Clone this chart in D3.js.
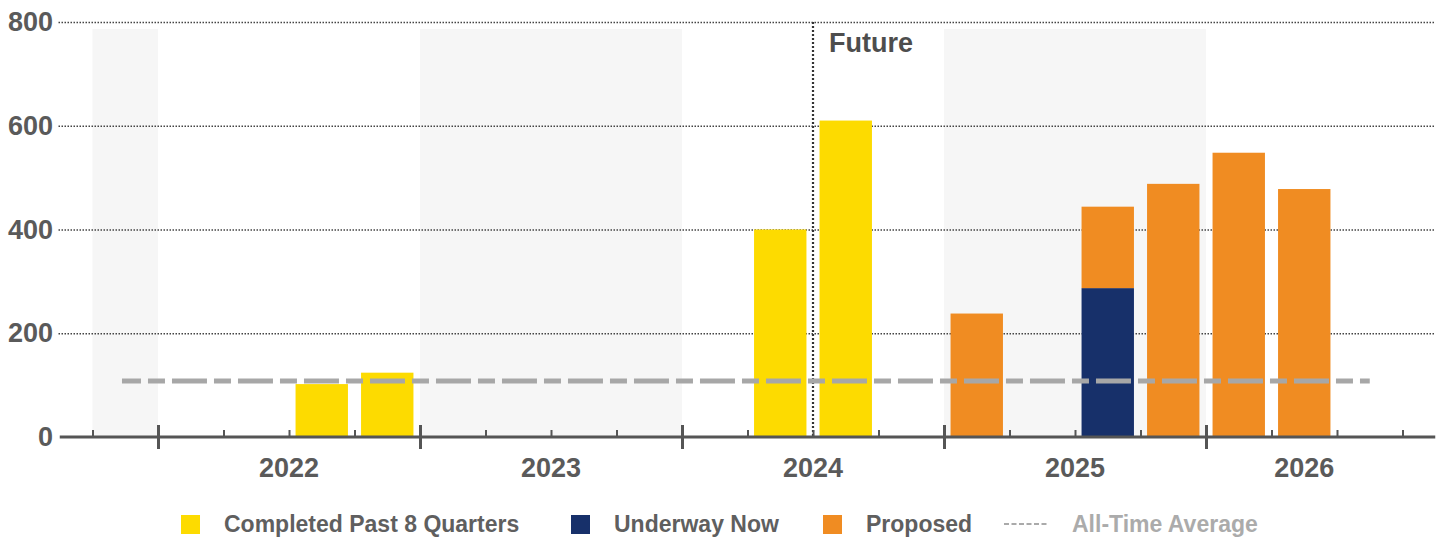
<!DOCTYPE html>
<html>
<head>
<meta charset="utf-8">
<script src="https://cdn.jsdelivr.net/npm/d3@7"></script>
<style>
  body { margin: 0; background: #fff; }
  text { font-family: "Liberation Sans", Arial, sans-serif; font-weight: bold; }
</style>
</head>
<body>
<svg width="1443" height="537"></svg>
<script>
// quarters shown on the axis (2021 Q4 .. 2026 Q3)
var quarters = ["2021 Q4",
  "2022 Q1", "2022 Q2", "2022 Q3", "2022 Q4",
  "2023 Q1", "2023 Q2", "2023 Q3", "2023 Q4",
  "2024 Q1", "2024 Q2", "2024 Q3", "2024 Q4",
  "2025 Q1", "2025 Q2", "2025 Q3", "2025 Q4",
  "2026 Q1", "2026 Q2", "2026 Q3"];

var completed = [0, 0, 0, 102, 124, 0, 0, 0, 0, 0, 400, 610, 0, 0, 0, 0, 0, 0, 0, 0];
var underway  = [0, 0, 0, 0, 0, 0, 0, 0, 0, 0, 0, 0, 0, 0, 0, 287, 0, 0, 0, 0];
var proposed  = [0, 0, 0, 0, 0, 0, 0, 0, 0, 0, 0, 0, 0, 238, 0, 157, 488, 548, 478, 0];

var years = [2021, 2022, 2023, 2024, 2025, 2026];
var yTicks = [0, 200, 400, 600, 800];
var allTimeAverage = 108;
var futureStart = "2024 Q3";

var seriesNames = ["Completed Past 8 Quarters", "Underway Now", "Proposed"];
var colors = ["#FDDB00", "#17306A", "#F08C22"];

function draw() {
  var svg = d3.select("svg");
  var plotLeft = 92.5, plotRight = 1402.5, plotTop = 22, plotBottom = 437;

  // one step per quarter
  var qx = d3.scaleLinear().domain([0, quarters.length]).range([plotLeft, plotRight]);
  var x = d3.scaleBand()
    .domain(quarters)
    .range([plotLeft, plotRight])
    .paddingInner(0.2)
    .paddingOuter(0.1);
  var step = x.step();

  var y = d3.scaleLinear().domain([0, 800]).range([plotBottom, plotTop]);

  // span of each year, clipped to the quarters shown
  var yearSpans = years.map(function(yr) {
    var idx = quarters.map(function(q, i) { return q.slice(0, 4) == String(yr) ? i : -1; })
      .filter(function(i) { return i >= 0; });
    return { year: yr, x0: qx(idx[0]), x1: qx(idx[idx.length - 1] + 1) };
  });

  // alternating year shading
  svg.append("g").selectAll("rect")
    .data(yearSpans.filter(function(d) { return d.year % 2 == 1; }))
    .enter().append("rect")
    .attr("x", function(d) { return d.x0; })
    .attr("width", function(d) { return d.x1 - d.x0; })
    .attr("y", plotTop + 7)
    .attr("height", plotBottom - plotTop - 7)
    .attr("fill", "#F6F6F6");

  // gridlines
  svg.append("g")
    .attr("transform", "translate(" + (plotLeft - 34) + ",0)")
    .call(d3.axisRight(y).tickValues(yTicks.filter(function(v) { return v > 0; }))
      .tickSize(1435 - plotLeft + 34).tickFormat(""))
    .call(function(g) {
      g.select(".domain").remove();
      g.selectAll(".tick line")
        .attr("stroke", "#444")
        .attr("stroke-width", 1.5)
        .attr("stroke-dasharray", "1.5,1.5");
    });

  // y labels
  svg.append("g")
    .attr("transform", "translate(53,0)")
    .call(d3.axisLeft(y).tickValues(yTicks).tickSize(0).tickPadding(0))
    .call(function(g) {
      g.select(".domain").remove();
      g.selectAll("text")
        .attr("font-size", 27)
        .attr("font-family", "Liberation Sans, Arial, sans-serif")
        .attr("font-weight", "bold")
        .attr("fill", "#5a5a5a");
    });

  // stacked bars
  var rows = quarters.map(function(q, i) {
    return { q: q, c: completed[i], u: underway[i], p: proposed[i] };
  });
  var stack = d3.stack().keys(["c", "u", "p"])(rows);

  svg.append("g").selectAll("g")
    .data(stack)
    .enter().append("g")
    .attr("fill", function(d, i) { return colors[i]; })
    .selectAll("rect")
    .data(function(d) { return d.filter(function(s) { return s[1] - s[0] > 0; }); })
    .enter().append("rect")
    .attr("x", function(d) { return x(d.data.q); })
    .attr("width", x.bandwidth())
    .attr("y", function(d) { return y(d[1]); })
    .attr("height", function(d) { return y(d[0]) - y(d[1]); });

  // future divider
  var fx = qx(quarters.indexOf(futureStart));
  svg.append("line")
    .attr("x1", fx).attr("x2", fx)
    .attr("y1", plotTop).attr("y2", plotBottom)
    .attr("stroke", "#333")
    .attr("stroke-width", 2.2)
    .attr("stroke-dasharray", "2,2");

  svg.append("text")
    .attr("x", fx + 16)
    .attr("y", 52)
    .attr("font-size", 27)
    .attr("fill", "#4d4d4d")
    .text("Future");

  // all-time average
  svg.append("line")
    .attr("x1", qx(0.45)).attr("x2", qx(quarters.length - 0.5))
    .attr("y1", y(allTimeAverage)).attr("y2", y(allTimeAverage))
    .attr("stroke", "#A7A7A7")
    .attr("stroke-width", 5)
    .attr("stroke-dasharray", "35,7,17,7")
    .attr("stroke-dashoffset", 16);

  // x axis
  var boundaries = d3.range(0, quarters.length + 1);
  var majors = boundaries.filter(function(i) { return i < quarters.length && quarters[i].slice(5) == "Q1"; });
  var minors = boundaries.filter(function(i) { return majors.indexOf(i) < 0; });

  svg.append("line")
    .attr("x1", qx(0) - step / 2).attr("x2", qx(quarters.length) + step / 2)
    .attr("y1", plotBottom).attr("y2", plotBottom)
    .attr("stroke", "#555")
    .attr("stroke-width", 3);

  var tickStyle = function(g) {
    g.select(".domain").remove();
    g.selectAll(".tick line").attr("stroke", "#555");
  };

  svg.append("g")
    .attr("transform", "translate(0," + plotBottom + ")")
    .call(d3.axisTop(qx).tickValues(minors).tickSize(7).tickFormat(""))
    .call(tickStyle)
    .selectAll(".tick line").attr("stroke-width", 2);

  svg.append("g")
    .attr("transform", "translate(0," + plotBottom + ")")
    .call(d3.axisTop(qx).tickValues(majors).tickSize(12).tickFormat(""))
    .call(tickStyle)
    .selectAll(".tick line").attr("stroke-width", 3);

  svg.append("g")
    .attr("transform", "translate(0," + plotBottom + ")")
    .call(d3.axisBottom(qx).tickValues(majors).tickSize(12).tickFormat(""))
    .call(tickStyle)
    .selectAll(".tick line").attr("stroke-width", 3);

  // year labels
  svg.append("g").selectAll("text")
    .data(yearSpans.filter(function(d) { return d.year != years[0]; }))
    .enter().append("text")
    .attr("x", function(d) { return (d.x0 + d.x1) / 2; })
    .attr("y", 477)
    .attr("text-anchor", "middle")
    .attr("font-size", 27)
    .attr("fill", "#5a5a5a")
    .text(function(d) { return d.year; });

  // legend
  var legendX = [181, 571, 823];
  var legend = svg.append("g").selectAll("g")
    .data(seriesNames)
    .enter().append("g")
    .attr("transform", function(d, i) { return "translate(" + legendX[i] + ",515)"; });

  legend.append("rect")
    .attr("width", 19).attr("height", 19)
    .attr("fill", function(d, i) { return colors[i]; });

  legend.append("text")
    .attr("x", 43).attr("y", 17)
    .attr("font-size", 23)
    .attr("fill", "#5f5f5f")
    .text(function(d) { return d; });

  svg.append("line")
    .attr("x1", 1004).attr("x2", 1048)
    .attr("y1", 524).attr("y2", 524)
    .attr("stroke", "#aaa")
    .attr("stroke-width", 2)
    .attr("stroke-dasharray", "5,2.5");

  svg.append("text")
    .attr("x", 1072).attr("y", 532)
    .attr("font-size", 23)
    .attr("fill", "#ababab")
    .text("All-Time Average");
}

draw();
</script>
</body>
</html>
